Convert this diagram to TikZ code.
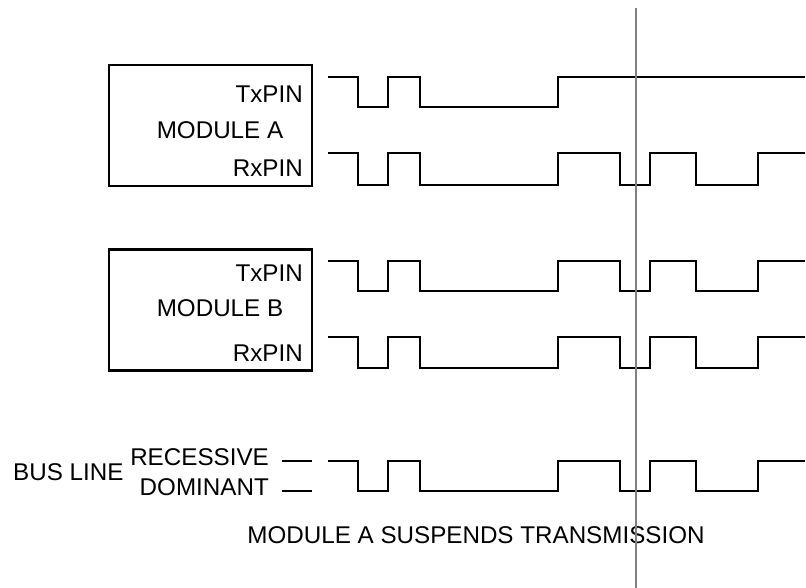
\documentclass[tikz,border=0pt]{standalone}
\usepackage{fontspec}
\setmainfont{Liberation Sans}
\usetikzlibrary{positioning}
\definecolor{cursorgray}{RGB}{128,128,128}

\begin{document}
\begin{tikzpicture}[
    x=1pt, y=-1pt,
    pinlabel/.style={font=\fontsize{24.2}{27}\selectfont, inner sep=0pt, anchor=east},
    modlabel/.style={font=\fontsize{24.2}{27}\selectfont, inner sep=0pt},
    modbox/.style={draw, line width=2.2pt, minimum width=203pt, minimum height=121pt, inner sep=0pt},
    signal/.style={line width=2.2pt, line join=miter},
    cursor/.style={line width=2pt, draw=cursorgray}
]
\useasboundingbox (0,0) rectangle (806,588);

% module boxes
\node[modbox] (boxA) at (210.5,125.5) {};
\node[modbox] (boxB) at (210.5,310) {};
\node[modlabel] (modA) at (220,130) {MODULE A};
\node[modlabel] (modB) at (220,308) {MODULE B};
\node[pinlabel] (txA) at (303,94) {TxPIN};
\node[pinlabel] (rxA) at (303,168) {RxPIN};
\node[pinlabel] (txB) at (303,273) {TxPIN};
\node[pinlabel] (rxB) at (303,353) {RxPIN};

% bus line labels
\node[modlabel, anchor=west] (bus) at (13,472) {BUS LINE};
\node[pinlabel] (rec) at (269,457) {RECESSIVE};
\node[pinlabel] (dom) at (269,487) {DOMINANT};
\draw[signal] (282,461) -- (312,461);
\draw[signal] (282,491) -- (312,491);

% TxPIN of module A stops after the error
\draw[signal] (328,77) -- (358,77) -- (358,107) -- (388,107) -- (388,77)
    -- (420,77) -- (420,107) -- (558,107) -- (558,77) -- (805,77);

% the other signals follow the bus
\foreach \hi/\lo in {153/185, 261/291, 337/368, 461/491}
  \draw[signal] (328,\hi) -- (358,\hi) -- (358,\lo) -- (388,\lo) -- (388,\hi)
      -- (420,\hi) -- (420,\lo) -- (558,\lo) -- (558,\hi) -- (620,\hi)
      -- (620,\lo) -- (650,\lo) -- (650,\hi) -- (696,\hi) -- (696,\lo)
      -- (758,\lo) -- (758,\hi) -- (805,\hi);

\node[modlabel] (suspend) at (476,535) {MODULE A SUSPENDS TRANSMISSION};

% marker
\coordinate (cTop) at (636,8);
\coordinate (cBot) at (636,588);
\draw[cursor] (cTop) -- (cBot);
\end{tikzpicture}
\end{document}
